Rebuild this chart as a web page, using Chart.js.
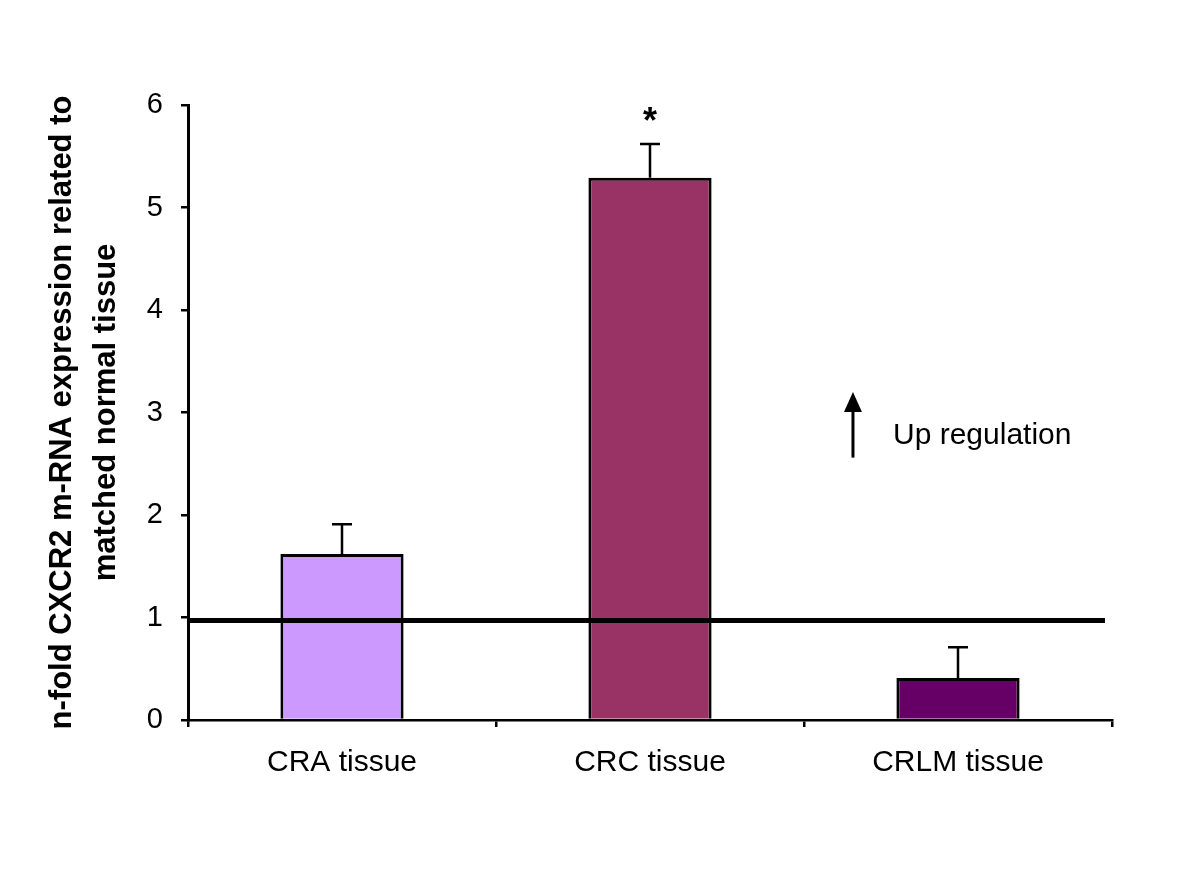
<!DOCTYPE html>
<html>
<head>
<meta charset="utf-8">
<script src="https://cdn.jsdelivr.net/npm/chart.js@4"></script>
<style>body{margin:0;background:#fff}</style>
</head>
<body>
<canvas id="chart" width="1200" height="872"></canvas>
<script>
const categories = ['CRA tissue', 'CRC tissue', 'CRLM tissue'];
const foldValues = [1.62, 5.29, 0.41];
const errorValues = [0.29, 0.33, 0.30];
const barColors = ['#cc99ff', '#993366', '#660066'];
const significance = ['', '*', ''];
const yTicks = [0, 1, 2, 3, 4, 5, 6];
const baselineValue = 0.97;

const FONT = '"Liberation Sans", Arial, sans-serif';

// error bars, baseline at ~1, arrow and label
const extras = {
  id: 'extras',
  afterDatasetsDraw(chart) {
    const {ctx, chartArea, scales: {x, y}} = chart;
    const meta = chart.getDatasetMeta(0);
    ctx.save();
    ctx.strokeStyle = '#000';
    ctx.fillStyle = '#000';

    ctx.lineWidth = 2.5;
    meta.data.forEach((bar, i) => {
      const top = y.getPixelForValue(foldValues[i] + errorValues[i]);
      ctx.beginPath();
      ctx.moveTo(bar.x, bar.y);
      ctx.lineTo(bar.x, top);
      ctx.moveTo(bar.x - 10, top);
      ctx.lineTo(bar.x + 10, top);
      ctx.stroke();
      if (significance[i]) {
        ctx.font = 'bold 36px ' + FONT;
        ctx.textAlign = 'center';
        ctx.textBaseline = 'middle';
        ctx.fillText(significance[i], bar.x, y.getPixelForValue(5.82));
      }
    });

    // reference line
    const by = y.getPixelForValue(baselineValue);
    ctx.lineWidth = 5;
    ctx.beginPath();
    ctx.moveTo(chartArea.left, by);
    ctx.lineTo(chartArea.right - 7, by);
    ctx.stroke();

    // up arrow
    const ax = x.getPixelForValue(1.659);
    const tip = y.getPixelForValue(3.2);
    const base = y.getPixelForValue(2.56);
    ctx.lineWidth = 3;
    ctx.beginPath();
    ctx.moveTo(ax, base);
    ctx.lineTo(ax, tip + 15);
    ctx.stroke();
    ctx.beginPath();
    ctx.moveTo(ax, tip);
    ctx.lineTo(ax - 9, tip + 20);
    ctx.lineTo(ax + 9, tip + 20);
    ctx.closePath();
    ctx.fill();

    ctx.font = '30px ' + FONT;
    ctx.textAlign = 'left';
    ctx.textBaseline = 'middle';
    ctx.fillText('Up regulation', x.getPixelForValue(1.789), y.getPixelForValue(2.77));
    ctx.restore();
  }
};

new Chart(document.getElementById('chart'), {
  type: 'bar',
  data: {
    labels: categories,
    datasets: [{
      data: foldValues,
      backgroundColor: barColors,
      borderColor: '#000',
      borderWidth: 3,
      borderSkipped: 'bottom',
      barPercentage: 0.4,
      categoryPercentage: 1
    }]
  },
  options: {
    responsive: false,
    animation: false,
    layout: {padding: {top: 105, right: 88, bottom: 0, left: 0}},
    plugins: {legend: {display: false}, tooltip: {enabled: false}},
    scales: {
      x: {
        offset: true,
        grid: {offset: true, drawOnChartArea: false, drawTicks: true, tickLength: 7, color: '#000', lineWidth: 2.5},
        border: {color: '#000', width: 2.5},
        ticks: {color: '#000', font: {family: FONT, size: 30}, padding: 18},
        afterFit(scale) { scale.height = 152; }
      },
      y: {
        min: 0,
        max: 6,
        afterBuildTicks(scale) { scale.ticks = yTicks.map(v => ({value: v})); },
        grid: {drawOnChartArea: false, drawTicks: true, tickLength: 7, color: '#000', lineWidth: 2.5},
        border: {color: '#000', width: 3},
        ticks: {color: '#000', font: {family: FONT, size: 29}, padding: 18},
        title: {
          display: true,
          text: ['n-fold CXCR2 m-RNA expression related to', 'matched normal tissue'],
          color: '#000',
          font: {family: FONT, size: 31, weight: 'bold', lineHeight: 1.4},
          padding: {top: 41, bottom: 0}
        },
        afterFit(scale) { scale.width = 188; }
      }
    }
  },
  plugins: [extras]
});
</script>
</body>
</html>
